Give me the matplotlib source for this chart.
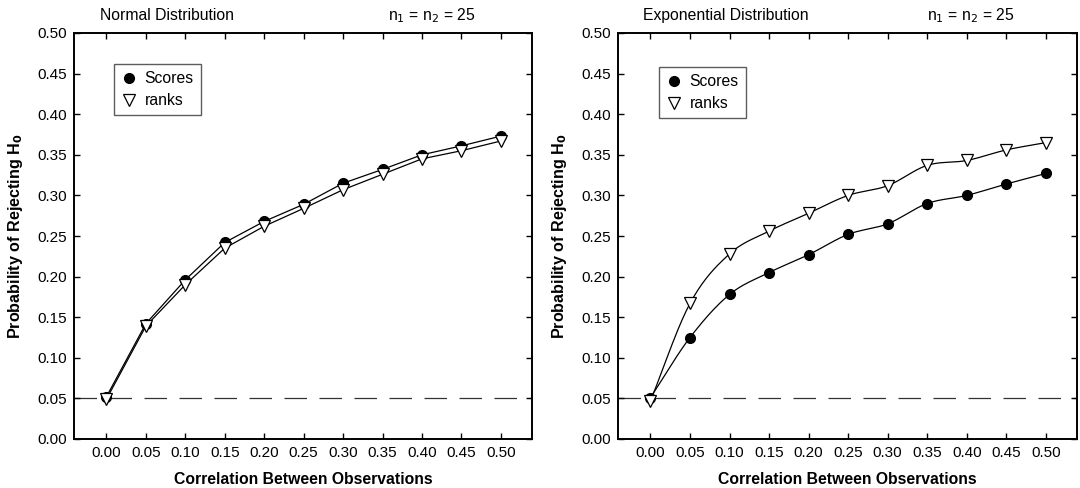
import numpy as np
import matplotlib
matplotlib.use("Agg")
import matplotlib.pyplot as plt
from matplotlib.lines import Line2D

plt.rcParams['font.family'] = ['Liberation Sans', 'DejaVu Sans']

corr = [0.00, 0.05, 0.10, 0.15, 0.20, 0.25, 0.30, 0.35, 0.40, 0.45, 0.50]
normal_scores = [0.052, 0.142, 0.196, 0.242, 0.268, 0.289, 0.315, 0.332, 0.350, 0.361, 0.373]
normal_ranks = [0.049, 0.139, 0.190, 0.235, 0.262, 0.284, 0.307, 0.326, 0.345, 0.355, 0.367]
exp_scores = [0.051, 0.125, 0.178, 0.205, 0.227, 0.252, 0.265, 0.290, 0.300, 0.314, 0.327]
exp_ranks = [0.047, 0.167, 0.228, 0.256, 0.278, 0.300, 0.312, 0.337, 0.343, 0.356, 0.365]
xticks = [0.00, 0.05, 0.10, 0.15, 0.20, 0.25, 0.30, 0.35, 0.40, 0.45, 0.50]
yticks = [0.00, 0.05, 0.10, 0.15, 0.20, 0.25, 0.30, 0.35, 0.40, 0.45, 0.50]
alpha_level = 0.05


def catmull_rom(x, y, n=20):
    x = np.asarray(x, float)
    y = np.asarray(y, float)
    px = np.concatenate([[2 * x[0] - x[1]], x, [2 * x[-1] - x[-2]]])
    py = np.concatenate([[2 * y[0] - y[1]], y, [2 * y[-1] - y[-2]]])
    xs, ys = [], []
    t = np.linspace(0, 1, n, endpoint=False)
    for i in range(1, len(px) - 2):
        f = lambda a0, a1, a2, a3: 0.5 * (2 * a1 + (-a0 + a2) * t + (2 * a0 - 5 * a1 + 4 * a2 - a3) * t ** 2 + (-a0 + 3 * a1 - 3 * a2 + a3) * t ** 3)
        xs.append(f(px[i - 1], px[i], px[i + 1], px[i + 2]))
        ys.append(f(py[i - 1], py[i], py[i + 1], py[i + 2]))
    xs.append([x[-1]])
    ys.append([y[-1]])
    return np.concatenate(xs), np.concatenate(ys)


W, H = 1080, 488
fig = plt.figure(figsize=(W / 100, H / 100), dpi=100)
ax1 = fig.add_axes([74 / W, 1 - 439 / H, (532 - 74) / W, (439 - 33) / H])
ax2 = fig.add_axes([618 / W, 1 - 439 / H, (1077 - 618) / W, (439 - 33) / H])

panels = [
    (ax1, normal_scores, normal_ranks, False, "Normal Distribution", 0.057, 0.686, (114, 64)),
    (ax2, exp_scores, exp_ranks, True, "Exponential Distribution", 0.054, 0.673, (659, 67)),
]

for ax, sc, rk, smooth, title, tx, nx, legpos in panels:
    ax.axhline(alpha_level, color='#333333', lw=0.9, dashes=(18, 10), zorder=1)
    if smooth:
        sx, sy = catmull_rom(corr, sc)
        rx, ry = catmull_rom(corr, rk)
        ax.plot(sx, sy, color='black', lw=0.9, zorder=2)
        ax.plot(rx, ry, color='black', lw=0.9, zorder=2)
    else:
        ax.plot(corr, sc, color='black', lw=0.9, zorder=2)
        ax.plot(corr, rk, color='black', lw=0.9, zorder=2)
    ax.plot(corr, sc, ls='none', marker='o', ms=7, mfc='black', mec='black', zorder=3)
    ax.plot(corr, rk, ls='none', marker='v', ms=8, mfc='white', mec='black', mew=0.9, zorder=4)

    ax.set_xlim(-0.0411, 0.5395)
    ax.set_ylim(0.0, 0.50)
    ax.set_xticks(xticks)
    ax.set_yticks(yticks)
    ax.set_xticklabels([f"{v:.2f}" for v in xticks], fontsize=11)
    ax.set_yticklabels([f"{v:.2f}" for v in yticks], fontsize=11)
    ax.tick_params(direction='in', length=4, width=1, top=True, right=True, pad=5, colors='black')
    for s in ax.spines.values():
        s.set_linewidth(1.4)
    ax.set_xlabel("Correlation Between Observations", fontsize=11.3, fontweight='bold')
    ax.xaxis.set_label_coords(0.5, (439 - 479) / 406)
    ax.xaxis.label.set_va('center')
    ax.set_ylabel("Probability of Rejecting H$_\\mathbf{0}$", fontsize=11.6, fontweight='bold')
    ax.yaxis.set_label_coords(-0.127, 0.5)
    ax.yaxis.label.set_va('center')
    ax.text(tx, 1 + 13 / 406, title, transform=ax.transAxes, fontsize=11.3, va='baseline', ha='left')
    ax.text(nx, 1 + 13 / 406, "n$_1$ = n$_2$ = 25", transform=ax.transAxes, fontsize=11.3, va='baseline', ha='left')

    handles = [
        Line2D([], [], ls='none', marker='o', ms=7, mfc='black', mec='black'),
        Line2D([], [], ls='none', marker='v', ms=8, mfc='white', mec='black', mew=0.9),
    ]
    x0 = ax.get_position().x0 * W
    wpx = ax.get_position().width * W
    leg = ax.legend(handles, ["Scores", "ranks"], loc='upper left',
                    bbox_to_anchor=((legpos[0] - x0) / wpx, (439 - legpos[1]) / 406),
                    fontsize=11.3, frameon=True, fancybox=False, edgecolor='#333333',
                    handletextpad=0.5, borderpad=0.45, labelspacing=0.45, handlelength=1.0,
                    borderaxespad=0)
    leg.get_frame().set_linewidth(1.0)

fig.savefig("out.png", dpi=100)
